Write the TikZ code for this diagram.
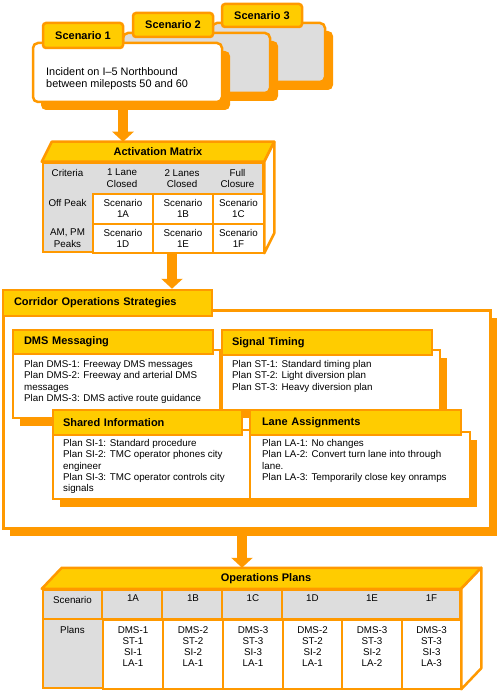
\documentclass[tikz,border=0pt]{standalone}
\usepackage{fontspec}
\setmainfont{Liberation Sans}
\usetikzlibrary{arrows.meta,shadows}
\definecolor{orng}{HTML}{FF9900}
\definecolor{yel}{HTML}{FFCC00}
\definecolor{gry}{HTML}{DDDDDD}
\tikzset{every node/.style={inner sep=0pt,font=\fontsize{9.8}{11.4}\selectfont},
  tab/.style={draw=orng,fill=yel,line width=2.5pt,align=left,font=\bfseries\fontsize{11}{13}\selectfont},
  sctab/.style={tab,align=center,rounded corners=3pt},
  card/.style={draw=orng,line width=2.5pt,rounded corners=5pt,
    drop shadow={fill=orng,opacity=1,shadow xshift=8pt,shadow yshift=-8pt}},
  panel/.style={draw=orng,fill=white,line width=2pt,
    drop shadow={fill=orng,opacity=1,shadow xshift=7pt,shadow yshift=-8pt}},
  txt/.style={align=left,anchor=north west},
  cell/.style={draw=orng,fill=white,line width=2pt},
  ctxt/.style={align=center,anchor=north,font=\fontsize{9.8}{11.3}\selectfont},
  title/.style={font=\bfseries\fontsize{11}{13}\selectfont},
  bigarrow/.style={draw=orng,line width=10pt,-{Triangle[width=21pt,length=10pt]}}}
\begin{document}
\begin{tikzpicture}[x=1pt,y=-1pt]
\useasboundingbox (0,0) rectangle (500,692);
% scenarios
\node[card,fill=gry,minimum width=113,minimum height=59] (card3) at (268.5,52.5) {};
\node[sctab,minimum width=80,minimum height=23] (tab3) at (262,15.5) {Scenario 3};
\node[card,fill=gry,minimum width=147,minimum height=60] (card2) at (196.5,63) {};
\node[sctab,minimum width=80,minimum height=24] (tab2) at (173,25) {Scenario 2};
\node[card,fill=white,minimum width=189,minimum height=59] (card1) at (127.5,72.5) {};
\node[sctab,minimum width=80,minimum height=25] (tab1) at (83,35.5) {Scenario 1};
\node[txt,font=\fontsize{10.9}{11.8}\selectfont] (incident) at (46,67.5) {Incident on I–5 Northbound\\between mileposts 50 and 60};

% activation matrix
\node[draw=orng,fill=gry,line width=2.5pt,minimum width=220,minimum height=89] (am) at (153,207.5) {};
\draw[orng,fill=yel,line width=2.5pt,line join=round] (am.north west) -- ++(10,-20)
  -- ([shift={(10,-20)}]am.north east) -- (am.north east) -- cycle;
\draw[orng,fill=white,line width=2.5pt,line join=round] (am.north east) -- ++(10,-20)
  -- ([shift={(10,-20)}]am.south east) -- (am.south east) -- cycle;
\coordinate (amback) at ([shift={(10,-20)}]am.north);
\node[title] (amtitle) at ([shift={(5,-10)}]am.north) {Activation Matrix};
\foreach \p/\q/\x/\w in {A/D/92/60,B/E/152/60,C/F/212/51} {
  \node[cell,anchor=north west,minimum width=\w,minimum height=30] (am\p) at (\x,193) {};
  \node[cell,anchor=north west,minimum width=\w,minimum height=29] (am\q) at (\x,223) {};
  \node[ctxt] (amt\p) at ([yshift=-6pt]am\p.north) {Scenario\\1\p};
  \node[ctxt] (amt\q) at ([yshift=-6pt]am\q.north) {Scenario\\1\q};
}
\node[ctxt] (crit) at (67.5,169) {Criteria};
\node[ctxt] (lane1) at (122,169) {1 Lane\\Closed};
\node[ctxt] (lane2) at (182,169) {2 Lanes\\Closed};
\node[ctxt] (full) at (237.5,169) {Full\\Closure};
\node[ctxt] (offpeak) at (67.5,199) {Off Peak};
\node[ctxt] (peaks) at (67.5,229) {AM, PM\\Peaks};

% corridor operations strategies
\node[panel,line width=3pt,minimum width=487,minimum height=218] (corr) at (246.5,419) {};
\node[tab,text width=187,inner xsep=11,minimum height=26] (corrtab) at (107.5,303) {Corridor Operations Strategies};

\node[panel,minimum width=207,minimum height=68] (dms) at (116.5,384) {};
\node[tab,text width=178,inner xsep=11,minimum height=24] (dmstab) at (113,342) {DMS Messaging};
\node[txt] (dmstxt) at (24,360) {Plan DMS-1: Freeway DMS messages\\Plan DMS-2: Freeway and arterial DMS\\messages\\Plan DMS-3: DMS active route guidance};

\node[panel,minimum width=218,minimum height=60] (st) at (331,380) {};
\node[tab,text width=190,inner xsep=10,minimum height=25] (sttab) at (327,342.5) {Signal Timing};
\node[txt] (sttxt) at (232,360) {Plan ST-1: Standard timing plan\\Plan ST-2: Light diversion plan\\Plan ST-3: Heavy diversion plan};

\node[panel,minimum width=197,minimum height=69] (si) at (151.5,464.5) {};
\node[tab,text width=169,inner xsep=10,minimum height=25] (sitab) at (147.5,422.5) {Shared Information};
\node[txt] (sitxt) at (63,439) {Plan SI-1: Standard procedure\\Plan SI-2: TMC operator phones city\\engineer\\Plan SI-3: TMC operator controls city\\signals};

\node[panel,minimum width=220,minimum height=67] (la) at (360,465.5) {};
\node[tab,text width=187,inner xsep=12,minimum height=25] (latab) at (355.5,422.5) {Lane Assignments};
\node[txt] (latxt) at (262,439) {Plan LA-1: No changes\\Plan LA-2: Convert turn lane into through\\lane.\\Plan LA-3: Temporarily close key onramps};

% operations plans
\node[draw=orng,fill=gry,line width=2.5pt,minimum width=417,minimum height=98] (ops) at (251.5,639) {};
\draw[orng,fill=yel,line width=2.5pt,line join=round] (ops.north west) -- ++(20,-21)
  -- ([shift={(20,-21)}]ops.north east) -- (ops.north east) -- cycle;
\draw[orng,fill=white,line width=2.5pt,line join=round] (ops.north east) -- ++(20,-21)
  -- ([shift={(20,-21)}]ops.south east) -- (ops.south east) -- cycle;
\coordinate (opsback) at ([shift={(20,-21)}]ops.north);
\node[title] (opstitle) at ([shift={(14.5,-10.5)}]ops.north) {Operations Plans};
\draw[orng,line width=2pt] (43,619) -- (460,619);
\foreach \x in {102,162,222,282}
  \draw[orng,line width=2pt] (\x,590) -- (\x,619);
\foreach \s/\x/\w/\d/\i/\l in {A/102/60/1/1/1,B/162/60/2/2/1,C/222/60/3/3/1,D/282/59/2/2/1,E/341/60/3/2/2,F/401/59/3/3/3} {
  \node[cell,anchor=north west,minimum width=\w,minimum height=69] (pl\s) at (\x,619) {};
  \node[ctxt] (plt\s) at ([yshift=-7pt]pl\s.north) {DMS-\d\\ST-\d\\SI-\i\\LA-\l};
  \node[ctxt] (hd\s) at ([yshift=-6pt]pl\s.north |- ops.north) {1\s};
}
\node[ctxt] (scen) at (72.5,596) {Scenario};
\node[ctxt] (plans) at (72.5,626) {Plans};

% arrows
\draw[bigarrow] ([xshift=-4.5pt]card1.south) -- ([xshift=-4.5pt]card1.south |- amback);
\draw[bigarrow] ([xshift=19pt]am.south) -- ([xshift=19pt]am.south |- corrtab.north);
\draw[bigarrow] ([xshift=-4.5pt]corr.south) -- ([xshift=-4.5pt]corr.south |- opsback);
\end{tikzpicture}
\end{document}
